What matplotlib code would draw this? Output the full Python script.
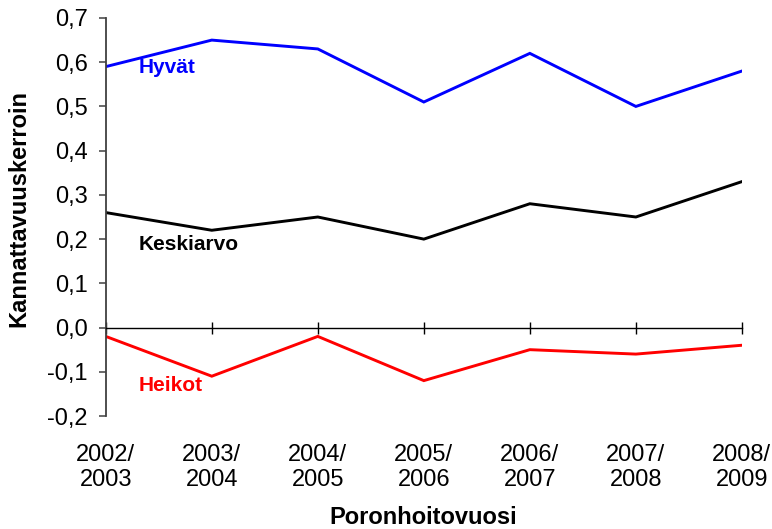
import matplotlib
matplotlib.use("Agg")
import matplotlib.pyplot as plt

plt.rcParams['font.family'] = ['Liberation Sans', 'DejaVu Sans']

seasons = ["2002/\n2003", "2003/\n2004", "2004/\n2005", "2005/\n2006",
           "2006/\n2007", "2007/\n2008", "2008/\n2009"]
hyvat = [0.59, 0.65, 0.63, 0.51, 0.62, 0.50, 0.58]
keskiarvo = [0.26, 0.22, 0.25, 0.20, 0.28, 0.25, 0.33]
heikot = [-0.02, -0.11, -0.02, -0.12, -0.05, -0.06, -0.04]
yticks = [-0.2, -0.1, 0.0, 0.1, 0.2, 0.3, 0.4, 0.5, 0.6, 0.7]

fig = plt.figure(figsize=(7.72, 5.29), dpi=100)
ax = fig.add_axes([0.137, 0.2136, 0.824, 0.7524])

x = list(range(len(seasons)))
ax.plot(x, hyvat, color='#0000ff', lw=2.1, solid_joinstyle='miter')
ax.plot(x, keskiarvo, color='#000000', lw=2.1, solid_joinstyle='miter')
ax.plot(x, heikot, color='#ff0000', lw=2.1, solid_joinstyle='miter')

ax.set_xlim(0, len(seasons) - 1)
ax.set_ylim(-0.2, 0.7)
ax.set_yticks(yticks)
ax.set_yticklabels([f"{v:.1f}".replace('.', ',') for v in yticks])
ax.set_xticks(x)
ax.set_xticklabels(seasons, linespacing=1.38)

for s in ['top', 'right']:
    ax.spines[s].set_visible(False)
ax.spines['bottom'].set_position(('data', 0))
ax.spines['bottom'].set_color('#000000')
ax.spines['bottom'].set_linewidth(1.0)
ax.spines['left'].set_color('#404040')
ax.spines['left'].set_linewidth(1.3)

ax.tick_params(axis='y', direction='out', length=5, width=1.1, color='#404040',
               labelsize=17, pad=8)
ax.tick_params(axis='x', direction='inout', length=9, width=1.0, color='#000000',
               labelsize=17, pad=79)

ax.text(0.31, 0.587, "Hyvät", color='#0000ff', fontsize=15, fontweight='bold',
        va='center', ha='left')
ax.text(0.31, 0.188, "Keskiarvo", color='#000000', fontsize=15, fontweight='bold',
        va='center', ha='left')
ax.text(0.31, -0.13, "Heikot", color='#ff0000', fontsize=15, fontweight='bold',
        va='center', ha='left')

fig.text(0.025, 0.606, "Kannattavuuskerroin", fontsize=17, fontweight='bold',
         ha='center', va='center', rotation=90)
fig.text(0.548, 0.022, "Poronhoitovuosi", fontsize=17, fontweight='bold',
         ha='center', va='center')

fig.savefig("out.png", dpi=100)
